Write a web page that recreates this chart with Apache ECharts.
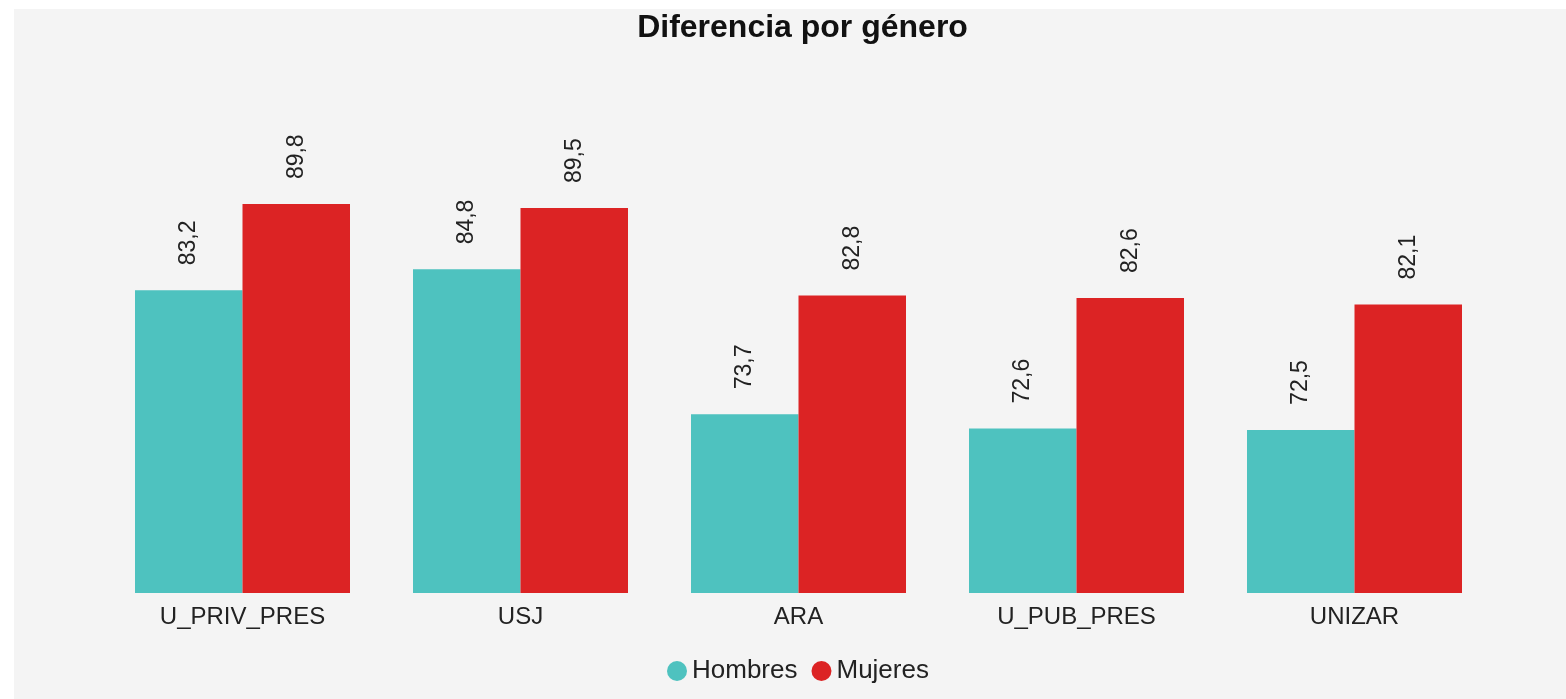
<!DOCTYPE html>
<html lang="es">
<head>
<meta charset="UTF-8">
<title>Diferencia por género</title>
<script src="https://cdn.jsdelivr.net/npm/echarts@6/dist/echarts.min.js"></script>
<style>
    body { margin: 0; background: #ffffff; overflow: hidden; }
    #chart {
        position: absolute;
        left: 14px;
        top: 9px;
        width: 1577px;
        height: 690px;
        background: #f4f4f4;
    }
</style>
</head>
<body>
<div id="chart"></div>

<script>
    const categorias = ['U_PRIV_PRES', 'USJ', 'ARA', 'U_PUB_PRES', 'UNIZAR'];
    const hombres = [83.2, 84.8, 73.7, 72.6, 72.5];
    const mujeres = [89.8, 89.5, 82.8, 82.6, 82.1];

    const fuente = 'Arial, "Liberation Sans", sans-serif';

    function etiqueta() {
        return {
            show: true,
            position: 'top',
            rotate: 90,
            align: 'left',
            verticalAlign: 'middle',
            distance: 25,
            color: '#222',
            fontSize: 23,
            fontFamily: fuente,
            formatter: p => p.value.toFixed(1).replace('.', ',')
        };
    }

    const chart = echarts.init(document.getElementById('chart'));
    chart.setOption({
        animation: false,
        title: {
            text: 'Diferencia por género',
            left: 'center',
            top: 3,
            padding: 0,
            textStyle: { fontSize: 32, fontWeight: 'bold', color: '#111', fontFamily: fuente }
        },
        legend: {
            data: ['Hombres', 'Mujeres'],
            left: 648,
            top: 644,
            icon: 'circle',
            itemWidth: 20,
            itemHeight: 20,
            itemGap: 14,
            textStyle: { fontSize: 26, color: '#222', fontFamily: fuente }
        },
        grid: { left: 89.5, right: 97.5, top: 62, bottom: 106 },
        xAxis: {
            type: 'category',
            data: categorias,
            axisLine: { show: false },
            axisTick: { show: false },
            axisLabel: { color: '#222', fontSize: 24, fontFamily: fuente, margin: 12 }
        },
        yAxis: {
            type: 'value',
            min: 60,
            max: 100,
            show: false
        },
        series: [
            {
                name: 'Hombres',
                type: 'bar',
                data: hombres,
                barWidth: 107.5,
                barGap: '0%',
                itemStyle: { color: '#4ec2bf' },
                label: etiqueta()
            },
            {
                name: 'Mujeres',
                type: 'bar',
                data: mujeres,
                barWidth: 107.5,
                barGap: '0%',
                itemStyle: { color: '#dc2324' },
                label: etiqueta()
            }
        ]
    });
</script>
</body>
</html>
